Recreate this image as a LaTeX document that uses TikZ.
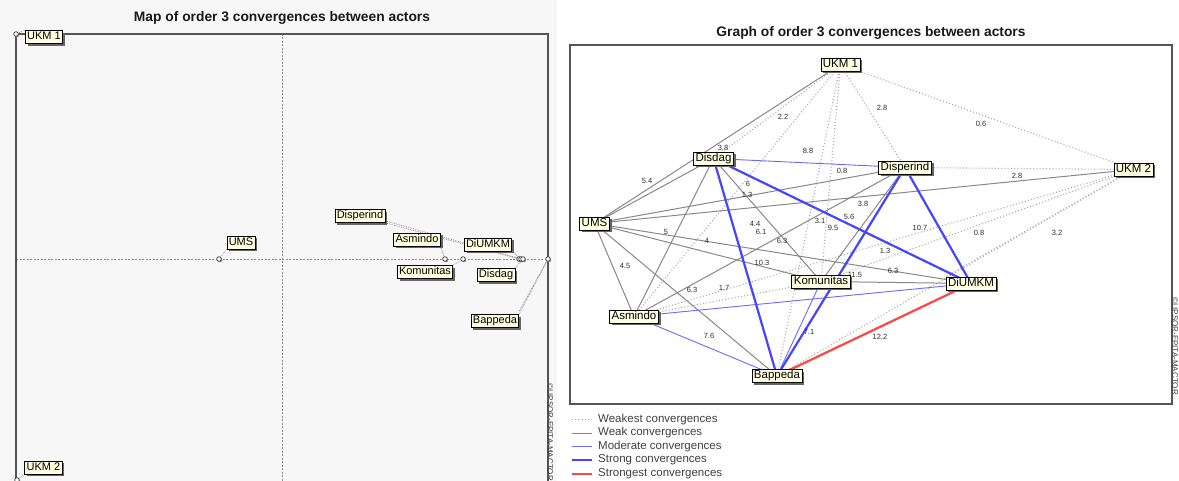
\documentclass[tikz,border=0pt]{standalone}
\usepackage{fontspec}
\setmainfont{Liberation Sans}
\usetikzlibrary{shadows}
\pgfdeclarelayer{bg}
\pgfdeclarelayer{edges}
\pgfsetlayers{bg,edges,main}
\definecolor{panelgray}{HTML}{F7F7F7}
\definecolor{tipyellow}{HTML}{FFFFE1}
\definecolor{weakgray}{HTML}{888888}
\definecolor{weakestgray}{HTML}{A8A8A8}
\definecolor{modblue}{HTML}{6A6AFF}
\definecolor{strongblue}{HTML}{4545FF}
\definecolor{strongred}{HTML}{FF4545}
\definecolor{framegray}{HTML}{555555}
\definecolor{labeltext}{HTML}{2A2A2A}
\begin{document}
\begin{tikzpicture}[x=1pt,y=-1pt,
  actor/.style={draw=black, fill=tipyellow, line width=0.8pt, inner xsep=2pt, inner ysep=1.2pt,
    text height=8.2pt, text depth=2.4pt, text=black,
    font=\fontsize{11.5}{11.5}\selectfont,
    drop shadow={shadow xshift=2.3pt, shadow yshift=-2.3pt, fill=black!60, opacity=1}},
  mapactor/.style={actor, font=\fontsize{11}{11}\selectfont, inner xsep=1.8pt},
  mpoint/.style={circle, draw=black!80, fill=white, line width=0.7pt, inner sep=0pt, minimum size=4.6pt,
    drop shadow={shadow xshift=1pt, shadow yshift=-1pt, fill=black!40, opacity=1}},
  leader/.style={draw=black!45, line width=0.7pt, dash pattern=on 0.8pt off 1pt},
  weakest/.style={draw=weakestgray, line width=1.1pt, dash pattern=on 1pt off 2.2pt},
  weak/.style={draw=weakgray, line width=1pt},
  moderate/.style={draw=modblue, line width=0.9pt},
  strong/.style={draw=strongblue, line width=2.2pt},
  strongest/.style={draw=strongred, line width=2.2pt},
  elabel/.style={font=\fontsize{7.5}{7.5}\selectfont, text=labeltext, inner sep=0pt},
  title/.style={font=\bfseries\fontsize{13.8}{13.8}\selectfont, text=black!90},
  legtext/.style={anchor=west, font=\fontsize{11.5}{11.5}\selectfont, text=black!75, inner sep=0pt},
  copyr/.style={anchor=west, rotate=-90, font=\fontsize{8}{8}\selectfont, text=black!75, inner sep=0pt}
]
\useasboundingbox (0,0) rectangle (1179,481);

% ---------------- left panel ----------------
\begin{pgfonlayer}{bg}
  \fill[panelgray] (0,0) rectangle (557,481);
  \draw[black!45, line width=0.7pt, dash pattern=on 2pt off 1.5pt] (282,34) -- (282,481);
  \draw[black!45, line width=0.7pt, dash pattern=on 2pt off 1.5pt] (16,259) -- (548,259);
  \draw[framegray, line width=1.3pt] (16,481) -- (16,34) -- (548,34) -- (548,481);
\end{pgfonlayer}

\node[title] (ltitle) at (282,18) {Map of order 3 convergences between actors};

\node[mpoint] (pukmA) at (16,34) {};
\node[mpoint] (pukmB) at (17,480) {};
\node[mpoint] (pums) at (219,259) {};
\node[mpoint] (pasmindo) at (445,259) {};
\node[mpoint] (pkomunitas) at (463,259) {};
\node[mpoint] (pdisperind) at (519,259) {};
\node[mpoint] (pdiumkm) at (521,259) {};
\node[mpoint] (pdisdag) at (523,259) {};
\node[mpoint] (pbappeda) at (548,259) {};

\node[mapactor] (mukmA) at (44,37) {UKM 1};
\node[mapactor] (mukmB) at (43.5,467.5) {UKM 2};
\node[mapactor] (mums) at (241,242.5) {UMS};
\node[mapactor] (mdisperind) at (360,216) {Disperind};
\node[mapactor] (masmindo) at (417,239.5) {Asmindo};
\node[mapactor] (mdiumkm) at (488,244.5) {DiUMKM};
\node[mapactor] (mkomunitas) at (425,272) {Komunitas};
\node[mapactor] (mdisdag) at (496,275) {Disdag};
\node[mapactor] (mbappeda) at (495,321) {Bappeda};

\begin{pgfonlayer}{edges}
  \draw[leader] (mukmA.north west) -- (pukmA);
  \draw[leader] (mukmB.south west) -- (pukmB);
  \draw[leader] (mums.south west) -- (pums);
  \draw[leader] (mdisperind.south east) -- (pdisperind);
  \draw[leader] ([yshift=2pt]mdisperind.south east) -- (pdiumkm);
  \draw[leader] (masmindo.south east) -- (pasmindo);
  \draw[leader] (mdiumkm.south east) -- (pdiumkm);
  \draw[leader] (mkomunitas.north east) -- (pkomunitas);
  \draw[leader] (mdisdag.north east) -- (pdisdag);
  \draw[leader] (mbappeda.north east) -- (pbappeda);
  \draw[leader] ([yshift=3pt]mbappeda.north east) -- (pbappeda);
\end{pgfonlayer}

\node[copyr] (lcopy) at (550,383) {©LIPSOR-EPITA-MACTOR};

% ---------------- right panel ----------------
\node[title] (rtitle) at (871,33) {Graph of order 3 convergences between actors};
\draw[framegray, line width=1.2pt] (570,45) rectangle (1172,404);

\node[actor] (ukmA) at (840.5,64.5) {UKM 1};
\node[actor] (ukmB) at (1133.5,169.5) {UKM 2};
\node[actor] (disdag) at (713.5,158.5) {Disdag};
\node[actor] (disperind) at (905,167.5) {Disperind};
\node[actor] (ums) at (594.5,223.5) {UMS};
\node[actor] (komunitas) at (821,281.5) {Komunitas};
\node[actor] (diumkm) at (971,283.5) {DiUMKM};
\node[actor] (asmindo) at (634,316.5) {Asmindo};
\node[actor] (bappeda) at (777,376) {Bappeda};

\begin{pgfonlayer}{edges}
  % weakest
  \draw[weakest] (ukmA.center) -- (ukmB.center);
  \draw[weakest] (ukmA.center) -- (disperind.center);
  \draw[weakest] (ukmA.center) -- (disdag.center);
  \draw[weakest] (ukmA.center) -- (asmindo.center);
  \draw[weakest] (ukmA.center) -- (komunitas.center);
  \draw[weakest] (ukmA.center) -- (bappeda.center);
  \draw[weakest] (ukmB.center) -- (disperind.center);
  \draw[weakest] (ukmB.center) -- (diumkm.north west);
  \draw[weakest] (ukmB.center) -- (komunitas.center);
  \draw[weakest] (ukmB.center) -- (asmindo.center);
  \draw[weakest] (ukmB.center) -- (bappeda.center);
  \draw[weakest] (asmindo.center) -- (komunitas.center);
  % weak
  \draw[weak] (ukmA.center) -- (ums.center);
  \draw[weak] (ums.center) -- (disdag.center);
  \draw[weak] (ums.center) -- (disperind.center);
  \draw[weak] (ums.center) -- (ukmB.center);
  \draw[weak] (ums.center) -- (asmindo.center);
  \draw[weak] (ums.center) -- (bappeda.center);
  \draw[weak] (ums.center) -- (komunitas.center);
  \draw[weak] (ums.center) -- (diumkm.center);
  \draw[weak] (disdag.center) -- (asmindo.center);
  \draw[weak] (disdag.center) -- (komunitas.center);
  \draw[weak] (asmindo.center) -- (disperind.center);
  \draw[weak] (komunitas.center) -- (disperind.center);
  \draw[weak] (komunitas.center) -- (diumkm.center);
  % moderate
  \draw[moderate] (disdag.center) -- (disperind.center);
  \draw[moderate] (asmindo.center) -- (diumkm.center);
  \draw[moderate] (asmindo.center) -- (bappeda.center);
  \draw[moderate] (komunitas.center) -- (bappeda.center);
  % strong
  \draw[strong] (disdag.center) -- (bappeda.center);
  \draw[strong] (disdag.center) -- (diumkm.center);
  \draw[strong] (disperind.center) -- (diumkm.center);
  \draw[strong] (disperind.center) -- (bappeda.center);
  % strongest
  \draw[strongest] (bappeda.center) -- (diumkm.center);

  % edge labels
  \node[elabel] (e1) at (783,117) {2.2};
  \node[elabel] (e2) at (882,108) {2.8};
  \node[elabel] (e3) at (981,124) {0.6};
  \node[elabel] (e4) at (723,148) {3.8};
  \node[elabel] (e5) at (808,151) {8.8};
  \node[elabel] (e6) at (842,171) {0.8};
  \node[elabel] (e7) at (1017,176) {2.8};
  \node[elabel] (e8) at (647,181) {5.4};
  \node[elabel] (e9) at (748,184) {6};
  \node[elabel] (e10) at (747,195) {1.3};
  \node[elabel] (e11) at (863,204) {3.8};
  \node[elabel] (e12) at (849,217) {5.6};
  \node[elabel] (e13) at (820,221) {3.1};
  \node[elabel] (e14) at (833,228) {9.5};
  \node[elabel] (e15) at (755,224) {4.4};
  \node[elabel] (e16) at (761,232) {6.1};
  \node[elabel] (e17) at (666,232) {5};
  \node[elabel] (e18) at (707,241) {4};
  \node[elabel] (e19) at (782,241) {6.3};
  \node[elabel] (e20) at (762,263) {10.3};
  \node[elabel] (e21) at (855,275) {11.5};
  \node[elabel] (e22) at (625,266) {4.5};
  \node[elabel] (e23) at (692,290) {6.3};
  \node[elabel] (e24) at (724,288) {1.7};
  \node[elabel] (e25) at (709,336) {7.6};
  \node[elabel] (e26) at (809,332) {7.1};
  \node[elabel] (e27) at (880,337) {12.2};
  \node[elabel] (e28) at (920,228) {10.7};
  \node[elabel] (e29) at (979,233) {0.8};
  \node[elabel] (e30) at (1057,233) {3.2};
  \node[elabel] (e31) at (885,251) {1.3};
  \node[elabel] (e32) at (893,271) {6.3};
\end{pgfonlayer}

\node[copyr] (rcopy) at (1175,297) {©LIPSOR-EPITA-MACTOR};

% ---------------- legend ----------------
\coordinate (la1) at (572,419.5); \coordinate (lb1) at (592,419.5);
\coordinate (la2) at (572,433); \coordinate (lb2) at (592,433);
\coordinate (la3) at (572,446.5); \coordinate (lb3) at (592,446.5);
\coordinate (la4) at (572,460); \coordinate (lb4) at (592,460);
\coordinate (la5) at (572,474); \coordinate (lb5) at (592,474);
\draw[weakest] (la1) -- (lb1);
\draw[weak] (la2) -- (lb2);
\draw[moderate] (la3) -- (lb3);
\draw[draw=strongblue, line width=2pt] (la4) -- (lb4);
\draw[draw=strongred, line width=1.2pt] (la5) -- (lb5);
\node[legtext] (t1) at (598,419.5) {Weakest convergences};
\node[legtext] (t2) at (598,433) {Weak convergences};
\node[legtext] (t3) at (598,446.5) {Moderate convergences};
\node[legtext] (t4) at (598,460) {Strong convergences};
\node[legtext] (t5) at (598,474) {Strongest convergences};
\end{tikzpicture}
\end{document}
